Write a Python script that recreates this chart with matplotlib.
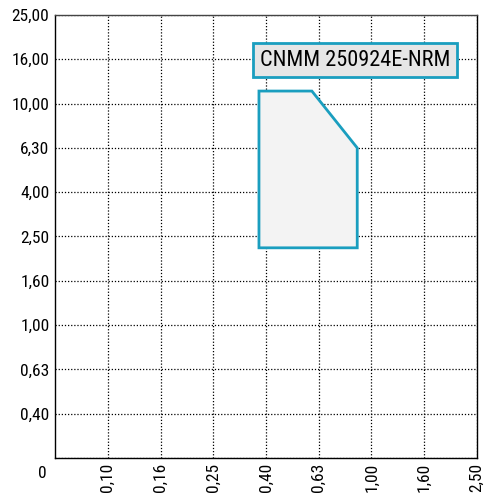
import numpy as np
import matplotlib
matplotlib.use("Agg")
import matplotlib.pyplot as plt
from matplotlib import font_manager

# Feed (mm/rev) and depth of cut (mm) category ladders
feed_ticks = [0, 0.10, 0.16, 0.25, 0.40, 0.63, 1.00, 1.60, 2.50]
depth_ticks = [0, 0.40, 0.63, 1.00, 1.60, 2.50, 4.00, 6.30, 10.00, 16.00, 25.00]
feed_labels = ["0", "0,10", "0,16", "0,25", "0,40", "0,63", "1,00", "1,60", "2,50"]
depth_labels = ["0", "0,40", "0,63", "1,00", "1,60", "2,50", "4,00", "6,30", "10,00", "16,00", "25,00"]

# Working area of the insert
area_feed = [0.38, 0.60, 0.90, 0.90, 0.38]
area_depth = [11.7, 11.7, 6.3, 2.27, 2.27]
insert_name = "CNMM 250924E-NRM"

# prefer a narrow sans face if one is installed
font_path = None
found = []
for f in font_manager.fontManager.ttflist:
    fn = f.fname.lower()
    base = fn.rsplit("/", 1)[-1]
    if ("condensed" in base or "narrow" in base) and not any(
            k in base for k in ("bold", "italic", "oblique", "light", "thin", "black", "medium", "semibold", "extra")):
        found.append(f.fname)
for key in ("robotocondensed", "opensans_condensed", "opensans-condensed", "liberationsansnarrow",
            "liberationsans-narrow", "dejavusanscondensed", "dejavusans-condensed", "condensed", "narrow"):
    for p in found:
        if key in p.lower().rsplit("/", 1)[-1].replace(" ", ""):
            font_path = p
            break
    if font_path:
        break

if font_path:
    font_manager.fontManager.addfont(font_path)
    fam = font_manager.FontProperties(fname=font_path).get_name()
    plt.rcParams["font.family"] = [fam, "DejaVu Sans"]
    size = 12.5
else:
    plt.rcParams["font.family"] = ["DejaVu Sans"]
    size = 10

teal = "#1a9ebf"

fig = plt.figure(figsize=(4.93, 4.97), dpi=100)
ax = fig.add_axes([0.1116, 0.0785, 0.8559, 0.8913])

xi = np.arange(len(feed_ticks))
yi = np.arange(len(depth_ticks))
ax.set_xlim(0, len(feed_ticks) - 1)
ax.set_ylim(0, len(depth_ticks) - 1)

# map values onto the category ladder positions
px = np.interp(area_feed, feed_ticks, xi)
py = np.interp(area_depth, depth_ticks, yi)
ax.fill(px, py, facecolor="#f3f3f3", edgecolor=teal, linewidth=2.0, zorder=3)

ax.set_xticks(xi[1:])
ax.set_xticklabels(feed_labels[1:], rotation=90, fontsize=size)
ax.set_yticks(yi)
ax.set_yticklabels(["" if i == 0 else l for i, l in enumerate(depth_labels)], fontsize=size)
ax.tick_params(length=0)
ax.tick_params(axis="x", pad=3.5)
ax.tick_params(axis="y", pad=4)
ax.text(-0.029, -0.036, feed_labels[0], transform=ax.transAxes, ha="center", va="center", fontsize=size)

ax.grid(True, color="black", linestyle=(0, (1, 1.5)), linewidth=0.9, zorder=1)
ax.set_axisbelow(True)
for s in ax.spines.values():
    s.set_linewidth(1.0)
ax.spines["top"].set_color("#444444")

ax.text(0.7116, 0.898, insert_name, transform=ax.transAxes, ha="center", va="center",
        fontsize=16, zorder=5,
        bbox=dict(boxstyle="square,pad=0.3", facecolor="#e6e6e6", edgecolor=teal, linewidth=2.0))

fig.savefig("out.png", dpi=100)
